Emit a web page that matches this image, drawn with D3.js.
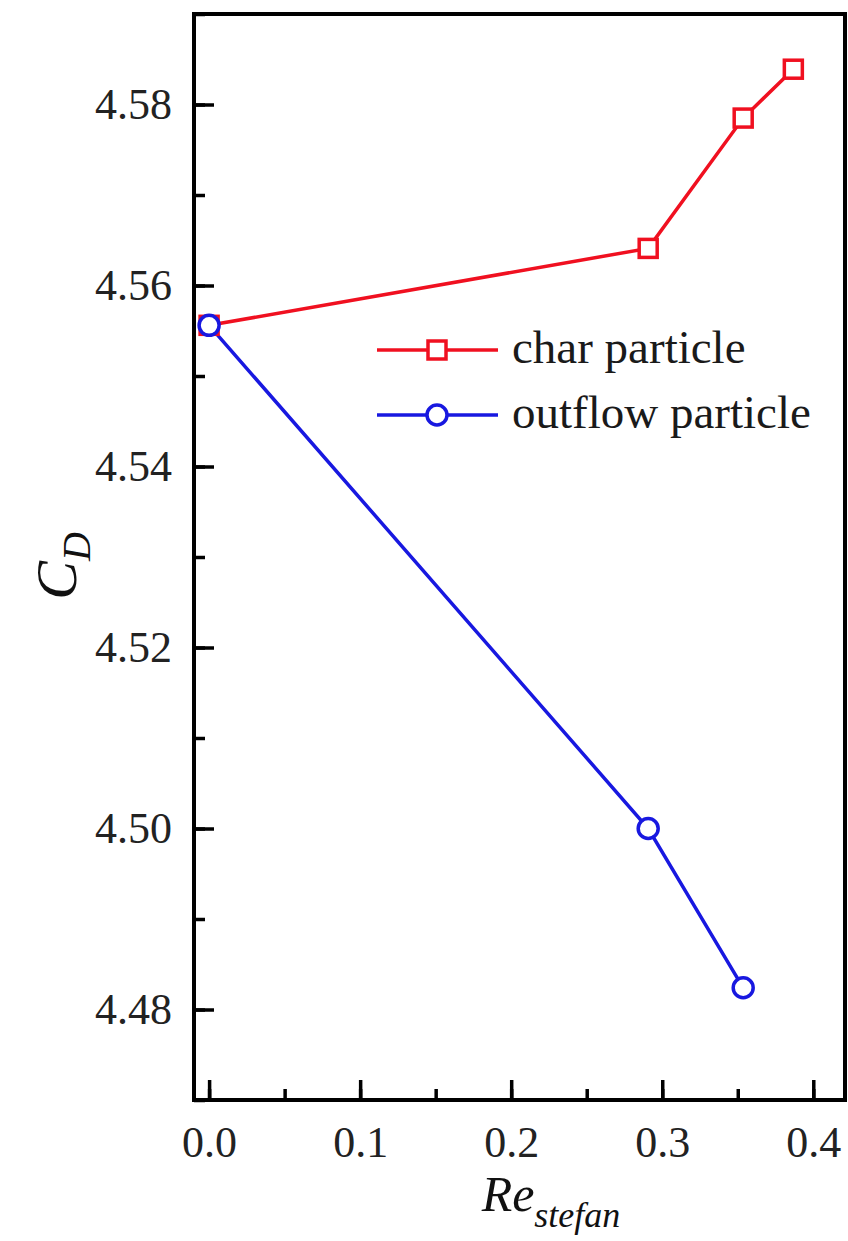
<!DOCTYPE html>
<html><head><meta charset="utf-8">
<script src="https://cdn.jsdelivr.net/npm/d3@7"></script>
<style>body{margin:0;background:#fff}svg{display:block}</style>
</head><body>
<svg id="chart" width="848" height="1241"></svg>
<script>
const charX = [0, 0.2907, 0.3536, 0.3868];
const charY = [4.5556, 4.5641, 4.5785, 4.5839];
const outX = [0, 0.2907, 0.3536];
const outY = [4.5556, 4.5000, 4.4824];
const xTicks = [0.0, 0.1, 0.2, 0.3, 0.4];
const yTicks = [4.48, 4.50, 4.52, 4.54, 4.56, 4.58];
const seriesNames = ["char particle", "outflow particle"];

const svg = d3.select("#chart");
const L = 194, R = 845, T = 14, B = 1100;
const x = d3.scaleLinear().domain([-0.01, 0.421]).range([L, R]);
const y = d3.scaleLinear().domain([4.47, 4.59]).range([B, T]);
const font = "'Liberation Serif','Times New Roman',serif";
const red = "#f01020", blue = "#1818e0";

// ticks (inward) bottom
const xMinor = d3.range(0, 0.42, 0.05);
const gx = svg.append("g").attr("transform", `translate(0,${B})`);
gx.call(d3.axisBottom(x).tickValues(xMinor).tickSize(-11).tickFormat(""));
gx.select(".domain").remove();
const gx2 = svg.append("g").attr("transform", `translate(0,${B})`);
gx2.call(d3.axisBottom(x).tickValues(xTicks).tickSize(-20).tickPadding(26).tickFormat(d3.format(".1f")));
gx2.select(".domain").remove();

const yMinor = d3.range(4.47, 4.591, 0.01).map(v => +v.toFixed(2));
const gy = svg.append("g").attr("transform", `translate(${L},0)`);
gy.call(d3.axisLeft(y).tickValues(yMinor).tickSize(-11).tickFormat(""));
gy.select(".domain").remove();
const gy2 = svg.append("g").attr("transform", `translate(${L},0)`);
gy2.call(d3.axisLeft(y).tickValues(yTicks).tickSize(-20).tickPadding(22).tickFormat(d3.format(".2f")));
gy2.select(".domain").remove();
svg.selectAll(".tick line").attr("stroke", "#000").attr("stroke-width", 3.5);
svg.selectAll(".tick text").attr("font-family", font).attr("font-size", 44).attr("fill", "#222");

// frame
svg.append("rect").attr("x", L).attr("y", T).attr("width", R - L).attr("height", B - T)
  .attr("fill", "none").attr("stroke", "#000").attr("stroke-width", 4);

const line = d3.line().x(d => x(d[0])).y(d => y(d[1]));
const charData = charX.map((v, i) => [v, charY[i]]);
const outData = outX.map((v, i) => [v, outY[i]]);

svg.append("path").datum(charData).attr("d", line).attr("fill", "none").attr("stroke", red).attr("stroke-width", 3.5);
svg.append("path").datum(outData).attr("d", line).attr("fill", "none").attr("stroke", blue).attr("stroke-width", 3.5);

const sq = 18;
svg.selectAll(".sq").data(charData).enter().append("rect")
  .attr("x", d => x(d[0]) - sq / 2).attr("y", d => y(d[1]) - sq / 2)
  .attr("width", sq).attr("height", sq).attr("fill", "#fff").attr("stroke", red).attr("stroke-width", 3.5);
svg.selectAll(".ci").data(outData).enter().append("circle")
  .attr("cx", d => x(d[0])).attr("cy", d => y(d[1])).attr("r", 10)
  .attr("fill", "#fff").attr("stroke", blue).attr("stroke-width", 3.5);

// legend
const leg = [{c: red, shape: "sq", y: 350}, {c: blue, shape: "ci", y: 415}];
leg.forEach((l, i) => {
  svg.append("line").attr("x1", 377).attr("x2", 498).attr("y1", l.y).attr("y2", l.y)
    .attr("stroke", l.c).attr("stroke-width", 3.5);
  if (l.shape === "sq") {
    svg.append("rect").attr("x", 437 - sq / 2).attr("y", l.y - sq / 2).attr("width", sq).attr("height", sq)
      .attr("fill", "#fff").attr("stroke", l.c).attr("stroke-width", 3.5);
  } else {
    svg.append("circle").attr("cx", 437).attr("cy", l.y).attr("r", 10)
      .attr("fill", "#fff").attr("stroke", l.c).attr("stroke-width", 3.5);
  }
  svg.append("text").attr("x", 512).attr("y", l.y + 13).attr("font-family", font)
    .attr("font-size", 47).attr("fill", "#1a1a1a").text(seriesNames[i]);
});

// axis titles
const yt = svg.append("text").attr("transform", "translate(76,566) rotate(-90)")
  .attr("text-anchor", "middle").attr("font-family", font).attr("font-style", "italic").attr("fill", "#111");
yt.append("tspan").attr("font-size", 58).text("C");
yt.append("tspan").attr("font-size", 40).attr("dy", 14).text("D");

const xt = svg.append("text").attr("x", 551).attr("y", 1211)
  .attr("text-anchor", "middle").attr("font-family", font).attr("font-style", "italic").attr("fill", "#111");
xt.append("tspan").attr("font-size", 50).text("Re");
xt.append("tspan").attr("font-size", 36).attr("dy", 16).text("stefan");
</script>
</body></html>
